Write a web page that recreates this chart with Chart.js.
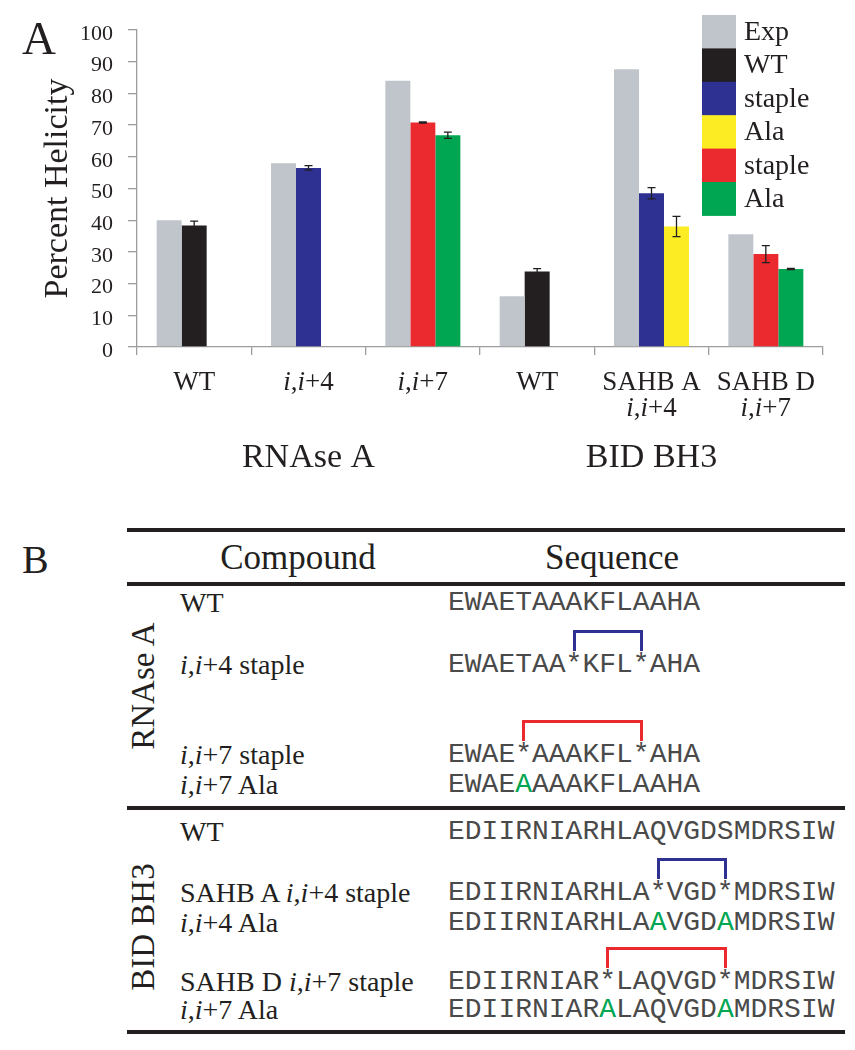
<!DOCTYPE html>
<html>
<head>
<meta charset="utf-8">
<script src="https://cdn.jsdelivr.net/npm/chart.js@4/dist/chart.umd.min.js"></script>
<style>
  body { margin: 0; background: #fff; }
  #page { position: relative; width: 855px; height: 1050px; overflow: hidden; font-family: "Liberation Serif", serif; color: #231f20; }
  #helicityChart { position: absolute; left: 0; top: 0; }
  .lbl { position: absolute; line-height: 1; transform: translateY(-50%); white-space: nowrap; }
  .mid { transform: translate(-50%, -50%); }
  .rule { position: absolute; left: 127px; width: 718px; height: 4px; background: #231f20; }
  .seq { font-family: "Liberation Mono", monospace; font-size: 28px; color: #4a4a4a; }
  .cmp { font-size: 28px; }
  .bracket { position: absolute; bottom: 100%; height: 21px; border: 3px solid; border-bottom: none; box-sizing: border-box; }
  .side { position: absolute; font-size: 33px; line-height: 1; white-space: nowrap; transform: translate(-50%, -50%) rotate(-90deg); }
  .hl { color: #00a651; }
</style>
</head>
<body>
<div id="page">
  <canvas id="helicityChart" width="855" height="490"></canvas>
  <div class="lbl" style="left:22px; top:38px; font-size:47px;">A</div>
  <div class="lbl" style="left:22px; top:560px; font-size:40px;">B</div>
  <div id="tableB"></div>
</div>
<script>
// panel A data
const categories = [['WT'], ['i,i+4'], ['i,i+7'], ['WT'], ['SAHB A', 'i,i+4'], ['SAHB D', 'i,i+7']];
const groupNames = ['RNAse A', 'BID BH3'];
const groupCenters = [1, 4];

const expHelicity     = [40, 58, 84, 16, 87.6, 35.6];
const wtHelicity      = [38.3, null, null, 23.8, null, null];
const wtError         = [1.4, null, null, 0.9, null, null];
const staple4Helicity = [null, 56.5, null, null, 48.5, null];
const staple4Error    = [null, 0.7, null, null, 1.8, null];
const ala4Helicity    = [null, null, null, null, 38, null];
const ala4Error       = [null, null, null, null, 3.2, null];
const staple7Helicity = [null, null, 70.8, null, null, 29.3];
const staple7Error    = [null, null, 0.2, null, null, 2.7];
const ala7Helicity    = [null, null, 66.8, null, null, 24.6];
const ala7Error       = [null, null, 1.0, null, null, 0.2];

// panel B data
const rnaseNames = ['WT', 'i,i+4 staple', 'i,i+7 staple', 'i,i+7 Ala'];
const rnaseSeqs  = ['EWAETAAAKFLAAHA', 'EWAETAA*KFL*AHA', 'EWAE*AAAKFL*AHA', 'EWAEAAAAKFLAAHA'];
const bidNames   = ['WT', 'SAHB A i,i+4 staple', 'i,i+4 Ala', 'SAHB D i,i+7 staple', 'i,i+7 Ala'];
const bidSeqs    = ['EDIIRNIARHLAQVGDSMDRSIW', 'EDIIRNIARHLA*VGD*MDRSIW', 'EDIIRNIARHLAAVGDAMDRSIW', 'EDIIRNIAR*LAQVGD*MDRSIW', 'EDIIRNIARALAQVGDAMDRSIW'];

const serif = '"Liberation Serif", "Times New Roman", serif';
const ink = '#231f20';
const axisGray = '#9d9d9d';

Chart.defaults.font.family = serif;
Chart.defaults.color = ink;

// lowercase i is set in italics (i,i+4 etc)
function drawRich(ctx, text, x, y, size) {
    const parts = text.split(/(i)/).filter(p => p !== '');
    const fontFor = p => (p === 'i' ? 'italic ' : '') + size + 'px ' + serif;
    let w = 0;
    parts.forEach(p => { ctx.font = fontFor(p); w += ctx.measureText(p).width; });
    let cx = x - w / 2;
    ctx.textAlign = 'left';
    parts.forEach(p => {
        ctx.font = fontFor(p);
        ctx.fillText(p, cx, y);
        cx += ctx.measureText(p).width;
    });
}

const extrasPlugin = {
    id: 'extras',
    afterDatasetsDraw(chart) {
        const ctx = chart.ctx;
        const yScale = chart.scales.y;
        ctx.save();
        ctx.strokeStyle = ink;
        ctx.lineWidth = 1.3;
        chart.data.datasets.forEach((ds, i) => {
            if (!ds.errors) return;
            const meta = chart.getDatasetMeta(i);
            ds.data.forEach((v, j) => {
                if (v === null || ds.errors[j] === null) return;
                const bx = meta.data[j].x;
                const top = yScale.getPixelForValue(v + ds.errors[j]);
                const bot = yScale.getPixelForValue(v - ds.errors[j]);
                ctx.beginPath();
                ctx.moveTo(bx, top); ctx.lineTo(bx, bot);
                ctx.moveTo(bx - 4, top); ctx.lineTo(bx + 4, top);
                ctx.moveTo(bx - 4, bot); ctx.lineTo(bx + 4, bot);
                ctx.stroke();
            });
        });
        ctx.restore();
    },
    afterDraw(chart) {
        const ctx = chart.ctx;
        const xScale = chart.scales.x;
        ctx.save();
        ctx.fillStyle = ink;
        ctx.textBaseline = 'alphabetic';
        // category labels
        categories.forEach((lines, i) => {
            const px = xScale.getPixelForValue(i);
            lines.forEach((line, k) => drawRich(ctx, line, px, 390 + k * 26, 27));
        });
        // group labels
        groupNames.forEach((g, i) => {
            drawRich(ctx, g, xScale.getPixelForValue(groupCenters[i]), 467, 34);
        });
        // legend, boxes stacked with no gap
        const boxH = 33.4;
        ctx.textBaseline = 'middle';
        chart.data.datasets.forEach((ds, i) => {
            const top = 15 + i * boxH;
            ctx.fillStyle = ds.backgroundColor;
            ctx.fillRect(702, top, 34, boxH + 0.5);
            ctx.fillStyle = ink;
            ctx.font = '28px ' + serif;
            ctx.textAlign = 'left';
            ctx.fillText(ds.label, 744, top + boxH / 2 + 1);
        });
        ctx.restore();
    }
};

function makeDataset(label, data, errors, color, stack) {
    return {
        label: label,
        data: data,
        errors: errors,
        backgroundColor: color,
        borderWidth: 0,
        stack: stack
    };
}

function drawChart() {
    const ctx = document.getElementById('helicityChart').getContext('2d');
    const config = {
        type: 'bar',
        data: {
            labels: categories,
            datasets: [
                makeDataset('Exp', expHelicity, null, '#c0c5cb', 'exp'),
                makeDataset('WT', wtHelicity, wtError, '#231f20', 'second'),
                makeDataset('staple', staple4Helicity, staple4Error, '#2e3192', 'second'),
                makeDataset('Ala', ala4Helicity, ala4Error, '#fbec23', 'third'),
                makeDataset('staple', staple7Helicity, staple7Error, '#eb2a2f', 'second'),
                makeDataset('Ala', ala7Helicity, ala7Error, '#00a651', 'third')
            ]
        },
        options: {
            responsive: false,
            animation: false,
            categoryPercentage: 0.656,
            barPercentage: 1.0,
            layout: { padding: { top: 30, right: 32, left: 0, bottom: 0 } },
            plugins: { legend: { display: false }, tooltip: { enabled: false } },
            scales: {
                x: {
                    ticks: { display: false },
                    grid: { drawOnChartArea: false, tickLength: 8, color: axisGray, lineWidth: 1.3, offset: true },
                    border: { color: axisGray, width: 1.3 },
                    afterFit(scale) { scale.height = 143; }
                },
                y: {
                    min: 0,
                    max: 100,
                    stacked: false,
                    ticks: { stepSize: 10, padding: 15, labelOffset: 4, color: ink, font: { family: serif, size: 22 } },
                    grid: { drawOnChartArea: false, tickLength: 9, color: axisGray, lineWidth: 1.3 },
                    border: { color: axisGray, width: 1.3 },
                    title: {
                        display: true,
                        text: 'Percent Helicity',
                        color: ink,
                        font: { family: serif, size: 34 },
                        padding: { top: 38, bottom: 0 }
                    },
                    afterFit(scale) { scale.width = 137; }
                }
            }
        },
        plugins: [extrasPlugin]
    };
    return new Chart(ctx, config);
}

function italicI(text) {
    return text.replace(/i/g, '<i>i</i>');
}

function seqHtml(seq, wt, color) {
    let out = '';
    const stapled = seq.indexOf('*') >= 0;
    for (let k = 0; k < seq.length; k++) {
        const c = seq[k];
        if (!stapled && c !== wt[k]) out += '<span class="hl">' + c + '</span>';
        else out += c;
    }
    if (stapled) {
        const a = seq.indexOf('*');
        const b = seq.lastIndexOf('*');
        out += '<div class="bracket" style="border-color:' + color + '; left:calc(' + (a + 0.5) + 'ch - 1.5px); width:calc(' + (b - a) + 'ch + 3px);"></div>';
    }
    return out;
}

function buildTable() {
    const box = document.getElementById('tableB');
    let html = '';
    [528, 582, 806, 1030].forEach(t => { html += '<div class="rule" style="top:' + t + 'px"></div>'; });
    html += '<div class="lbl mid" style="left:298px; top:557px; font-size:35px;">Compound</div>';
    html += '<div class="lbl mid" style="left:612px; top:557px; font-size:35px;">Sequence</div>';
    html += '<div class="side" style="left:143px; top:686px;">RNAse A</div>';
    html += '<div class="side" style="left:143px; top:927px;">BID BH3</div>';

    const rnaseY = [603, 665, 755, 785];
    const bidY = [832, 893, 923, 982, 1010];
    const addRows = (names, seqs, ys) => {
        names.forEach((n, i) => {
            const color = n.indexOf('+4') >= 0 ? '#2e3192' : '#eb2a2f';
            html += '<div class="lbl cmp" style="left:180px; top:' + ys[i] + 'px;">' + italicI(n) + '</div>';
            html += '<div class="lbl seq" style="left:448px; top:' + ys[i] + 'px;">' + seqHtml(seqs[i], seqs[0], color) + '</div>';
        });
    };
    addRows(rnaseNames, rnaseSeqs, rnaseY);
    addRows(bidNames, bidSeqs, bidY);
    box.innerHTML = html;
}

drawChart();
buildTable();
</script>
</body>
</html>
